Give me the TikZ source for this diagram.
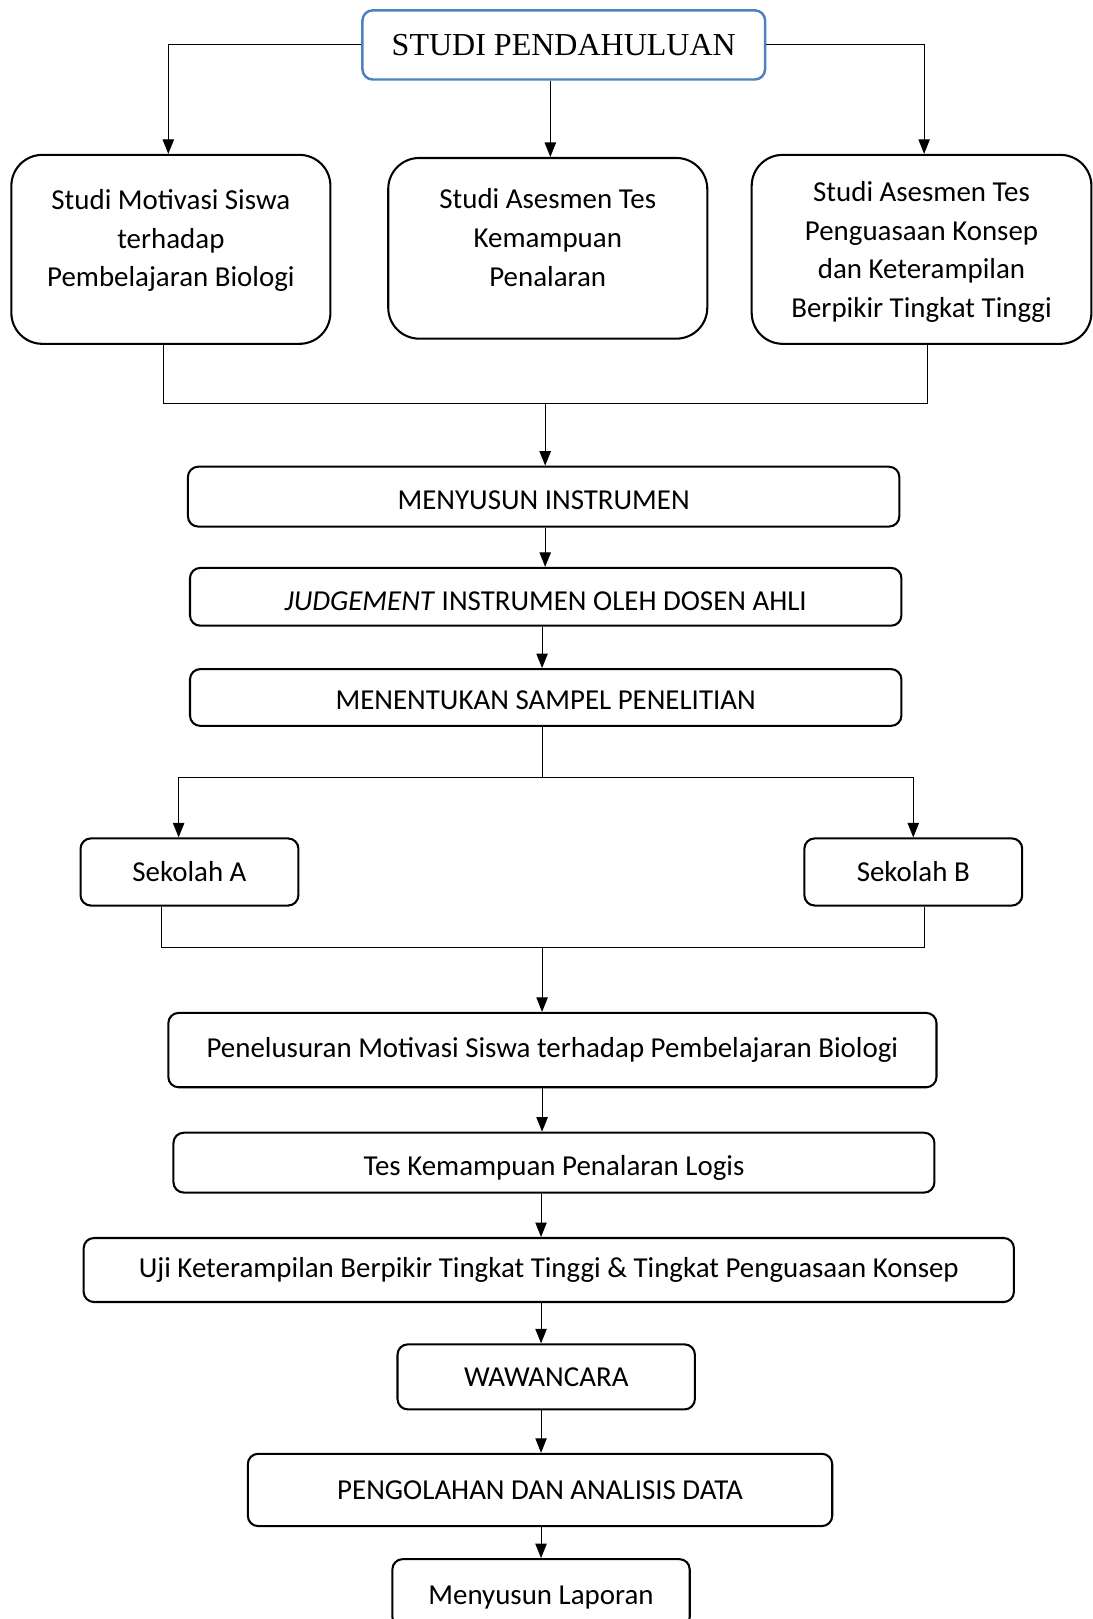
\documentclass[tikz,border=0pt]{standalone}
\usepackage{fontspec}
\setmainfont{Carlito}
\newfontfamily\timesfont{Liberation Serif}
\usetikzlibrary{arrows.meta}
\definecolor{boxblue}{RGB}{79,129,189}

\begin{document}
\begin{tikzpicture}[x=0.5pt, y=-0.5pt,
    box/.style={draw, line width=1pt, rounded corners=5pt, align=center,
      font=\fontsize{14}{18.75}\selectfont},
    low/.style={text height=12pt, text depth=0pt},
    bigbox/.style={box, rounded corners=15pt, minimum width=154.5pt, minimum height=91.5pt},
    link/.style={line width=0.5pt},
    arr/.style={link, -{Triangle[length=7pt,width=5.5pt]}}]
  \useasboundingbox (0,0) rectangle (1058,1568);

  % Start
  \node[box, draw=boxblue, line width=1.2pt, minimum width=195pt, minimum height=33.5pt,
    font=\timesfont\fontsize{15.5}{18}\selectfont] (studi) at (546,43.5) {STUDI PENDAHULUAN};

  % Three preliminary studies
  \node[bigbox, text depth=11pt] (motivasi) at (165.5,241.5)
    {Studi Motivasi Siswa\\terhadap\\Pembelajaran Biologi};
  \node[bigbox, minimum height=87.5pt, text depth=10.5pt] (asesmen) at (530.5,240.5)
    {Studi Asesmen Tes\\Kemampuan\\Penalaran};
  \node[bigbox, minimum width=164.5pt, text depth=-2pt] (konsep) at (892.5,241.5)
    {Studi Asesmen Tes\\Penguasaan Konsep\\dan Keterampilan\\Berpikir Tingkat Tinggi};

  % Main steps
  \node[box, low, minimum width=344.5pt, minimum height=29pt] (menyusun) at (526.5,481) {MENYUSUN INSTRUMEN};
  \node[box, low, text height=13.5pt, minimum width=344.5pt, minimum height=28pt] (judgement) at (528.5,578)
    {\textit{JUDGEMENT} INSTRUMEN OLEH DOSEN AHLI};
  \node[box, low, minimum width=344.5pt, minimum height=27.5pt] (sampel) at (528.5,675.5)
    {MENENTUKAN SAMPEL PENELITIAN};

  % Schools
  \node[box, minimum width=105.5pt, minimum height=32.5pt] (sekolahA) at (183.5,844.5) {Sekolah A};
  \node[box, minimum width=105.5pt, minimum height=32.5pt] (sekolahB) at (884.5,844.5) {Sekolah B};

  % Data collection and analysis
  \node[box, minimum width=372pt, minimum height=36pt] (penelusuran) at (535,1017)
    {Penelusuran Motivasi Siswa terhadap Pembelajaran Biologi};
  \node[box, low, minimum width=368.5pt, minimum height=29pt] (tes) at (536.5,1126)
    {Tes Kemampuan Penalaran Logis};
  \node[box, minimum width=450.5pt, minimum height=31pt] (uji) at (531.5,1230)
    {Uji Keterampilan Berpikir Tingkat Tinggi \& Tingkat Penguasaan Konsep};
  \node[box, minimum width=144pt, minimum height=31.5pt] (wawancara) at (529,1333.5) {WAWANCARA};
  \node[box, minimum width=283pt, minimum height=35pt] (pengolahan) at (523,1443)
    {PENGOLAHAN DAN ANALISIS DATA};
  \node[box, low, text height=11pt, minimum width=144pt, minimum height=33pt] (laporan) at (524,1543) {Menyusun Laporan};

  % Branch coordinates
  \coordinate (join1) at (528,391);
  \coordinate (split) at (525,753);
  \coordinate (join2) at (525,918);
  \coordinate (spine) at (524,0);

  % Connectors from the start box
  \draw[arr] (studi.west) -| ([xshift=-1.25pt]motivasi.north);
  \draw[arr] (studi.east) -| ([xshift=1.25pt]konsep.north);
  \draw[arr] (studi.south -| asesmen.north) ++(1.25pt,0) -- ([xshift=1.25pt]asesmen.north);

  % Merge into instrument
  \draw[link] ([xshift=-3.75pt]motivasi.south) |- (join1) -| ([xshift=2.75pt]konsep.south);
  \draw[arr] (join1) -- (join1 |- menyusun.north);
  \draw[arr] (menyusun.south -| join1) -- (judgement.north -| join1);
  \draw[arr] (judgement.south -| split) -- (sampel.north -| split);

  % Split to schools
  \draw[link] (sampel.south -| split) -- (split);
  \draw[arr] (split) -| ([xshift=-5.25pt]sekolahA.north);
  \draw[arr] (split) -| (sekolahB.north);

  % Merge from schools
  \draw[link] ([xshift=-13.75pt]sekolahA.south) |- (join2) -| ([xshift=5.25pt]sekolahB.south);
  \draw[arr] (join2) -- (join2 |- penelusuran.north);
  \draw[arr] (penelusuran.south -| join2) -- (tes.north -| join2);
  \draw[arr] (tes.south -| spine) -- (uji.north -| spine);
  \draw[arr] (uji.south -| spine) -- (wawancara.north -| spine);
  \draw[arr] (wawancara.south -| spine) -- (pengolahan.north -| spine);
  \draw[arr] (pengolahan.south -| spine) -- (laporan.north -| spine);
\end{tikzpicture}
\end{document}
